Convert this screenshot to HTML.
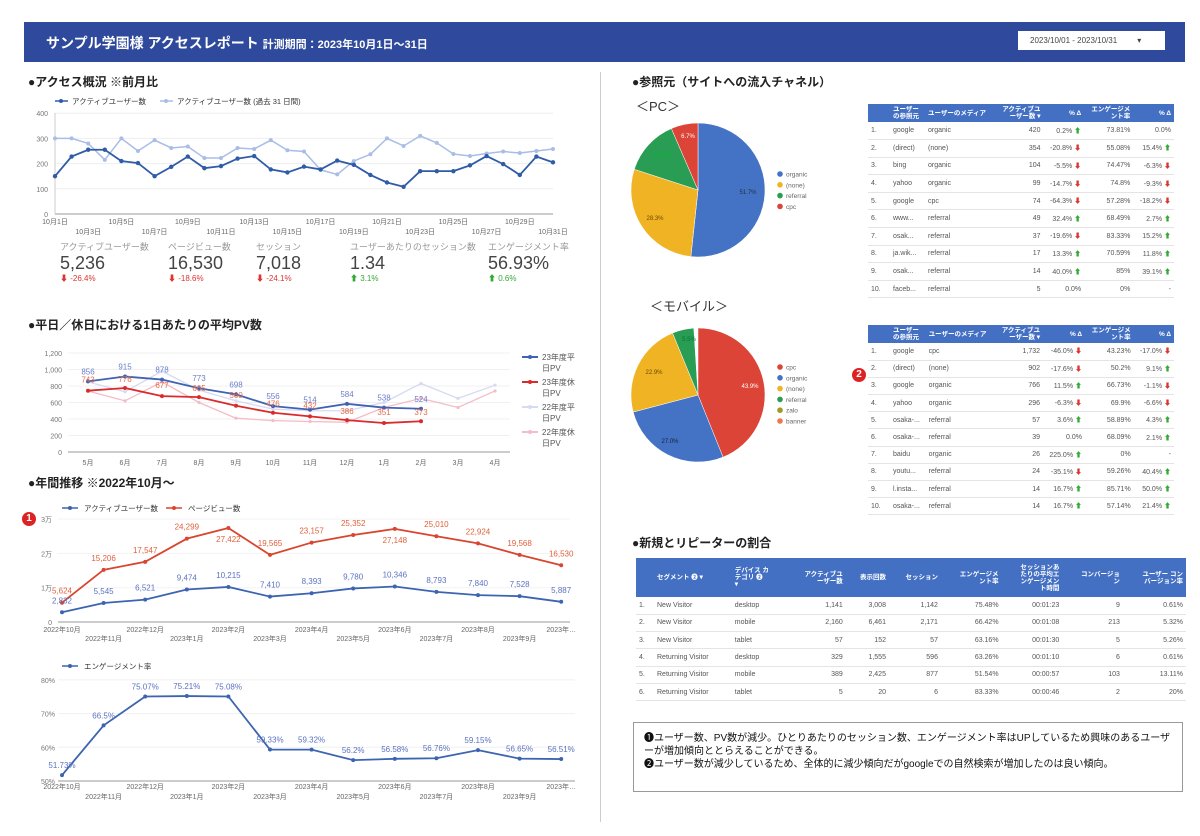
<!DOCTYPE html>
<html><head><meta charset="utf-8">
<style>
*{margin:0;padding:0;box-sizing:border-box}
body{width:1200px;height:836px;background:#fff;font-family:"Liberation Sans","Noto Sans CJK JP",sans-serif;position:relative;overflow:hidden;color:#333}
.a{position:absolute}
.hdr{left:24px;top:22px;width:1161px;height:40px;background:#2f4a9c;color:#fff;font-weight:bold}
.ttl{font-size:12px;font-weight:bold;color:#222}
table{border-collapse:collapse;font-size:7px;color:#555}
th{background:#4470c4;color:#fff;font-weight:bold;font-size:6.5px;line-height:7px;padding:2px 3px}
td{border-bottom:1px solid #e4e4e4;padding:0 3px;white-space:nowrap}
.r{text-align:right}
.sc .l{font-size:9px;color:#999}
.sc .v{font-size:18px;color:#444;line-height:20px}
.sc .c{font-size:8px}
</style></head><body>
<div class="a hdr"><span class="a" style="left:22px;top:11px;font-size:14px">サンプル学園様 アクセスレポート <span style="font-size:11px">計測期間：2023年10月1日～31日</span></span>
<div class="a" style="left:994px;top:9px;width:147px;height:19px;background:#fff;color:#444;font-size:8px;font-weight:normal;padding:5px 0 0 12px">2023/10/01 - 2023/10/31 &nbsp;&nbsp;&nbsp;&nbsp;&nbsp;&nbsp;&nbsp;&nbsp;▾</div></div>
<div class="a" style="left:600px;top:72px;width:1px;height:750px;background:#ccc"></div>

<div class="a ttl" style="left:28px;top:73px">●アクセス概況 ※前月比</div>
<div class="a ttl" style="left:28px;top:316px">●平日／休日における1日あたりの平均PV数</div>
<div class="a ttl" style="left:28px;top:474px">●年間推移 ※2022年10月～</div>
<div class="a ttl" style="left:632px;top:73px">●参照元（サイトへの流入チャネル）</div>
<div class="a" style="left:636px;top:96px;font-size:13px">＜PC＞</div>
<div class="a" style="left:650px;top:296px;font-size:13px">＜モバイル＞</div>
<div class="a ttl" style="left:632px;top:534px">●新規とリピーターの割合</div>
<div class="a" style="left:22px;top:512px;width:14px;height:14px;border-radius:7px;background:#d22;color:#fff;font-size:10px;font-weight:bold;text-align:center;line-height:14px">1</div>
<div class="a" style="left:852px;top:368px;width:14px;height:14px;border-radius:7px;background:#d22;color:#fff;font-size:10px;font-weight:bold;text-align:center;line-height:14px">2</div>

<div class="a sc" style="left:60px;top:240px"><div class="l">アクティブユーザー数</div><div class="v">5,236</div><div class="c" style="color:#d33">⬇ -26.4%</div></div>
<div class="a sc" style="left:168px;top:240px"><div class="l">ページビュー数</div><div class="v">16,530</div><div class="c" style="color:#d33">⬇ -18.6%</div></div>
<div class="a sc" style="left:256px;top:240px"><div class="l">セッション</div><div class="v">7,018</div><div class="c" style="color:#d33">⬇ -24.1%</div></div>
<div class="a sc" style="left:350px;top:240px"><div class="l">ユーザーあたりのセッション数</div><div class="v">1.34</div><div class="c" style="color:#3a3">⬆ 3.1%</div></div>
<div class="a sc" style="left:488px;top:240px"><div class="l">エンゲージメント率</div><div class="v">56.93%</div><div class="c" style="color:#3a3">⬆ 0.6%</div></div>

<svg class="a" id="sv" style="left:0;top:0" width="1200" height="836" font-family="Liberation Sans, Noto Sans CJK JP, sans-serif"></svg>

<table class="a" style="left:868px;top:104px;width:306px" id="t1"></table>
<table class="a" style="left:868px;top:325px;width:306px" id="t2"></table>
<table class="a" style="left:636px;top:558px;width:550px" id="t3"></table>

<div class="a" style="left:633px;top:722px;width:550px;height:70px;border:1px solid #999;font-size:10px;line-height:13px;padding:9px 10px;color:#111">❶ユーザー数、PV数が減少。ひとりあたりのセッション数、エンゲージメント率はUPしているため興味のあるユーザーが増加傾向ととらえることができる。<br>❷ユーザー数が減少しているため、全体的に減少傾向だがgoogleでの自然検索が増加したのは良い傾向。</div>

<script>
var s='';
function L(x1,y1,x2,y2,c,w){s+='<line x1="'+x1+'" y1="'+y1+'" x2="'+x2+'" y2="'+y2+'" stroke="'+c+'" stroke-width="'+(w||1)+'"/>';}
function T(x,y,t,sz,c,a,fw){s+='<text x="'+x+'" y="'+y+'" font-size="'+sz+'" fill="'+c+'" text-anchor="'+(a||'start')+'"'+(fw?' font-weight="bold"':'')+'>'+t+'</text>';}
function P(pts,c,w,r){s+='<polyline fill="none" stroke="'+c+'" stroke-width="'+w+'" points="'+pts.map(p=>p.join(',')).join(' ')+'"/>';pts.forEach(p=>{s+='<circle cx="'+p[0]+'" cy="'+p[1]+'" r="'+r+'" fill="'+c+'"/>'});}
// chart1
for(var i=0;i<=4;i++){var y=214-i*25.2;L(55,y,553,y,'#eee');T(48,y+3,i*100,7,'#777','end');}
L(55,214,553,214,'#999');L(55,113,55,214,'#ccc');
var d1=[150,228,255,255,210,202,150,187,228,182,190,220,230,177,165,188,177,212,195,155,125,108,170,170,170,193,230,198,155,228,205];
var d2=[300,300,280,215,300,250,293,262,268,222,222,262,258,293,253,248,175,157,210,237,300,270,310,282,238,230,240,248,242,250,258];
function m1(a){return a.map((v,i)=>[55+i*16.6,214-v*0.252]);}
P(m1(d2),'#a9bde6',1.5,2);P(m1(d1),'#2f5ba8',1.8,2.2);
for(var d=1;d<=31;d+=2){var x=55+(d-1)*16.6;T(x,((d-1)/2)%2==0?224:234,'10月'+d+'日',7,'#666','middle');}
L(55,101,68,101,'#2f5ba8',1.5);s+='<circle cx="61" cy="101" r="2" fill="#2f5ba8"/>';T(72,104,'アクティブユーザー数',7.5,'#333');
L(160,101,173,101,'#a9bde6',1.5);s+='<circle cx="166" cy="101" r="2" fill="#a9bde6"/>';T(177,104,'アクティブユーザー数 (過去 31 日間)',7.5,'#333');
// chart2
for(var i=0;i<=6;i++){var y=452-i*16.5;L(68,y,510,y,i?'#f0f0f0':'#999');T(62,y+3,['0','200','400','600','800','1,000','1,200'][i],7,'#777','end');}
var mo=['5月','6月','7月','8月','9月','10月','11月','12月','1月','2月','3月','4月'];
mo.forEach((m,i)=>T(88+i*37,465,m,7,'#666','middle'));
function m2(a){return a.map((v,i)=>[88+i*37,452-v*0.0825]);}
P(m2([850,730,980,750,620,520,500,500,600,830,650,810]),'#d6daf2',1.3,1.6);
P(m2([740,620,850,600,410,380,370,360,540,650,540,740]),'#f3bcc6',1.3,1.6);
var b=[856,915,878,773,698,556,514,584,538,524],r=[743,776,677,665,560,476,432,386,351,373];
P(m2(b),'#3f62b5',1.8,2);P(m2(r),'#d92b2b',1.8,2);
m2(b).forEach((p,i)=>T(p[0],p[1]-7,b[i],8,'#6b7fc9','middle'));
m2(r).forEach((p,i)=>T(p[0],p[1]+(i%2?-6:-8),r[i],8,'#e66a4a','middle'));
[['#3f62b5','23年度平'],['#d92b2b','23年度休'],['#d6daf2','22年度平'],['#f3bcc6','22年度休']].forEach((q,i)=>{var y=357+i*25;L(522,y,538,y,q[0],2);s+='<circle cx="530" cy="'+y+'" r="2" fill="'+q[0]+'"/>';T(542,y+3,q[1],8,'#555');T(542,y+14,'日PV',8,'#555');});
// chart3
for(var i=0;i<=3;i++){var y=622-i*34.3;L(58,y,570,y,i?'#f3f3f3':'#999');T(52,y+3,['0','1万','2万','3万'][i],7,'#777','end');}
var xl=['2022年10月','2022年11月','2022年12月','2023年1月','2023年2月','2023年3月','2023年4月','2023年5月','2023年6月','2023年7月','2023年8月','2023年9月','2023年…'];
function X(i){return 62+i*41.6;}
xl.forEach((t,i)=>{T(X(i),i%2?641:632,t,7,'#666','middle');T(X(i),i%2?799:789,t,7,'#666','middle');});
var u=[2832,5545,6521,9474,10215,7410,8393,9780,10346,8793,7840,7528,5887],pv=[5624,15206,17547,24299,27422,19565,23157,25352,27148,25010,22924,19568,16530];
function m3(a){return a.map((v,i)=>[X(i),622-v*0.00343]);}
P(m3(pv),'#d9452f',1.8,2);P(m3(u),'#3d64b0',1.8,2);
m3(u).forEach((p,i)=>T(p[0],p[1]-9,u[i].toLocaleString('en'),8,'#5b72c2','middle'));
m3(pv).forEach((p,i)=>T(p[0],(i==4||i==8)?p[1]+14:p[1]-9,pv[i].toLocaleString('en'),8,'#e0603c','middle'));
L(62,508,78,508,'#3d64b0',1.5);s+='<circle cx="70" cy="508" r="2" fill="#3d64b0"/>';T(84,511,'アクティブユーザー数',7.5,'#333');
L(166,508,182,508,'#d9452f',1.5);s+='<circle cx="174" cy="508" r="2" fill="#d9452f"/>';T(188,511,'ページビュー数',7.5,'#333');
// chart4
for(var i=0;i<=3;i++){var y=781-i*33.7;L(58,y,575,y,i?'#f0f0f0':'#999');T(55,y+3,(50+i*10)+'%',7,'#777','end');}
var e=[51.73,66.5,75.07,75.21,75.08,59.33,59.32,56.2,56.58,56.76,59.15,56.65,56.51];
var ep=e.map((v,i)=>[X(i),781-(v-50)*3.37]);P(ep,'#3d64b0',1.8,2);
ep.forEach((p,i)=>T(p[0],p[1]-7,e[i]+'%',8,'#5b72c2','middle'));
L(62,666,78,666,'#3d64b0',1.5);s+='<circle cx="70" cy="666" r="2" fill="#3d64b0"/>';T(84,669,'エンゲージメント率',7.5,'#333');
// pies
function pie(cx,cy,R,fr,cols){var a=0;fr.forEach((f,i)=>{var a2=a+f*2*Math.PI;var x1=cx+R*Math.sin(a),y1=cy-R*Math.cos(a),x2=cx+R*Math.sin(a2),y2=cy-R*Math.cos(a2);s+='<path d="M'+cx+','+cy+' L'+x1+','+y1+' A'+R+','+R+' 0 '+(f>0.5?1:0)+' 1 '+x2+','+y2+' Z" fill="'+cols[i]+'" stroke="#fff" stroke-width="0.5"/>';a=a2;});}
pie(698,190,67,[0.517,0.283,0.135,0.065],['#4472c4','#f0b323','#2a9d55','#db4437']);
T(748,194,'51.7%',6,'#234','middle');T(655,220,'28.3%',6,'#6a4b00','middle');T(662,157,'13.2%',6,'#0b3','middle');T(688,138,'6.7%',6,'#fff','middle');
pie(698,395,67,[0.439,0.27,0.229,0.052],['#db4437','#4472c4','#f0b323','#2a9d55']);
T(750,388,'43.9%',6,'#fff','middle');T(670,443,'27.0%',6,'#123','middle');T(654,374,'22.9%',6,'#6a4b00','middle');T(689,341,'5.5%',6,'#073','middle');
[['#4472c4','organic'],['#f0b323','(none)'],['#2a9d55','referral'],['#db4437','cpc']].forEach((q,i)=>{s+='<circle cx="780" cy="'+(174+i*10.8)+'" r="2.8" fill="'+q[0]+'"/>';T(786,176.5+i*10.8,q[1],6.5,'#666');});
[['#db4437','cpc'],['#4472c4','organic'],['#f0b323','(none)'],['#2a9d55','referral'],['#9c9c1e','zalo'],['#f2754b','banner']].forEach((q,i)=>{s+='<circle cx="780" cy="'+(367+i*10.8)+'" r="2.8" fill="'+q[0]+'"/>';T(786,369.5+i*10.8,q[1],6.5,'#666');});
document.getElementById('sv').innerHTML=s;
// tables
function ar(v){return v=='-'||v=='0.0%'?v:(v[0]=='-'?v+' <span style="color:#d33">⬇</span>':v+' <span style="color:#3a3">⬆</span>');}
function tbl(id,rows,h){var o='<tr><th style="width:22px"></th><th style="text-align:left">ユーザー<br>の参照元</th><th style="text-align:left">ユーザーのメディア</th><th class="r">アクティブユ<br>ーザー数 ▾</th><th class="r">% Δ</th><th class="r">エンゲージメ<br>ント率</th><th class="r">% Δ</th></tr>';
rows.forEach((r,i)=>{o+='<tr style="height:'+h+'px"><td>'+(i+1)+'.</td><td>'+r[0]+'</td><td>'+r[1]+'</td><td class="r">'+r[2]+'</td><td class="r">'+ar(r[3])+'</td><td class="r">'+r[4]+'</td><td class="r">'+ar(r[5])+'</td></tr>';});
document.getElementById(id).innerHTML=o;}
tbl('t1',[['google','organic',420,'0.2%','73.81%','0.0%'],['(direct)','(none)',354,'-20.8%','55.08%','15.4%'],['bing','organic',104,'-5.5%','74.47%','-6.3%'],['yahoo','organic',99,'-14.7%','74.8%','-9.3%'],['google','cpc',74,'-64.3%','57.28%','-18.2%'],['www...','referral',49,'32.4%','68.49%','2.7%'],['osak...','referral',37,'-19.6%','83.33%','15.2%'],['ja.wik...','referral',17,'13.3%','70.59%','11.8%'],['osak...','referral',14,'40.0%','85%','39.1%'],['faceb...','referral',5,'0.0%','0%','-']],17.6);
tbl('t2',[['google','cpc','1,732','-46.0%','43.23%','-17.0%'],['(direct)','(none)',902,'-17.6%','50.2%','9.1%'],['google','organic',766,'11.5%','66.73%','-1.1%'],['yahoo','organic',296,'-6.3%','69.9%','-6.6%'],['osaka-...','referral',57,'3.6%','58.89%','4.3%'],['osaka-...','referral',39,'0.0%','68.09%','2.1%'],['baidu','organic',26,'225.0%','0%','-'],['youtu...','referral',24,'-35.1%','59.26%','40.4%'],['l.insta...','referral',14,'16.7%','85.71%','50.0%'],['osaka-...','referral',14,'16.7%','57.14%','21.4%']],17.2);
var o='<tr style="height:39px"><th style="width:18px"></th><th style="text-align:left">セグメント ❷ ▾</th><th style="text-align:left">デバイス カ<br>テゴリ ❷<br>▾</th><th class="r">アクティブユ<br>ーザー数</th><th class="r">表示回数</th><th class="r">セッション</th><th class="r">エンゲージメ<br>ント率</th><th class="r">セッションあ<br>たりの平均エ<br>ンゲージメン<br>ト時間</th><th class="r">コンバージョ<br>ン</th><th class="r">ユーザー コン<br>バージョン率</th></tr>';
[['New Visitor','desktop','1,141','3,008','1,142','75.48%','00:01:23',9,'0.61%'],['New Visitor','mobile','2,160','6,461','2,171','66.42%','00:01:08',213,'5.32%'],['New Visitor','tablet',57,152,57,'63.16%','00:01:30',5,'5.26%'],['Returning Visitor','desktop',329,'1,555',596,'63.26%','00:01:10',6,'0.61%'],['Returning Visitor','mobile',389,'2,425',877,'51.54%','00:00:57',103,'13.11%'],['Returning Visitor','tablet',5,20,6,'83.33%','00:00:46',2,'20%']].forEach((r,i)=>{o+='<tr style="height:17.3px"><td>'+(i+1)+'.</td>'+r.map((c,j)=>'<td'+(j>1?' class="r"':'')+'>'+c+'</td>').join('')+'</tr>';});
document.getElementById('t3').innerHTML=o;
</script>
</body></html>
